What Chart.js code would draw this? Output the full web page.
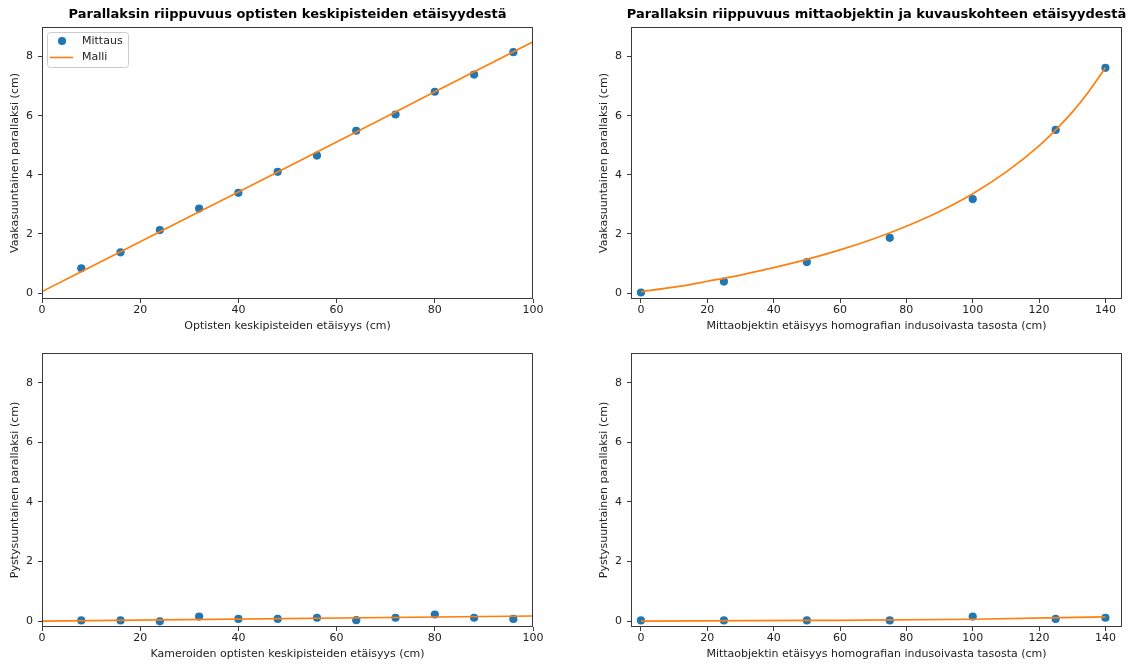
<!DOCTYPE html>
<html><head><meta charset="utf-8">
<script src="https://cdn.jsdelivr.net/npm/chart.js@4.4.1/dist/chart.umd.min.js"></script>
<style>
html,body{margin:0;padding:0;background:#fff;}
body{width:1136px;height:664px;position:relative;overflow:hidden;}
canvas{position:absolute;display:block;}
</style></head><body>
<canvas id="c1" width="560" height="340" style="left:0;top:0"></canvas>
<canvas id="c2" width="547" height="340" style="left:589px;top:0"></canvas>
<canvas id="c3" width="560" height="324" style="left:0;top:340px"></canvas>
<canvas id="c4" width="547" height="324" style="left:589px;top:340px"></canvas>
<script>
// ---- data ----
const seriesNames = ['Mittaus', 'Malli'];
const panelTitles = [
  'Parallaksin riippuvuus optisten keskipisteiden etäisyydestä',
  'Parallaksin riippuvuus mittaobjektin ja kuvauskohteen etäisyydestä'
];
const xAxisLabels = [
  'Optisten keskipisteiden etäisyys (cm)',
  'Mittaobjektin etäisyys homografian indusoivasta tasosta (cm)',
  'Kameroiden optisten keskipisteiden etäisyys (cm)',
  'Mittaobjektin etäisyys homografian indusoivasta tasosta (cm)'
];
const yAxisLabels = [
  'Vaakasuuntainen parallaksi (cm)',
  'Pystysuuntainen parallaksi (cm)'
];
const yTicks = [0, 2, 4, 6, 8];
const xTicksSep = [0, 20, 40, 60, 80, 100];
const xTicksDist = [0, 20, 40, 60, 80, 100, 120, 140];

// panel 1: horizontal parallax vs optical centre separation
const sepX = [8, 16, 24, 32, 40, 48, 56, 64, 72, 80, 88, 96];
const horizSep = [0.84, 1.38, 2.13, 2.86, 3.39, 4.10, 4.65, 5.49, 6.04, 6.81, 7.39, 8.15];
const modelSepX = [0, 20, 40, 60, 80, 100];
const modelHorizSep = [0.05, 1.74, 3.42, 5.11, 6.81, 8.50];

// panel 2: horizontal parallax vs object distance
const distX = [0, 25, 50, 75, 100, 125, 140];
const horizDist = [0.02, 0.39, 1.05, 1.87, 3.18, 5.52, 7.62];
const modelDistX = [0, 10, 20, 30, 40, 50, 60, 70, 80, 90, 100, 110, 120, 125, 130, 135, 140];
const modelHorizDist = [0.05, 0.20, 0.40, 0.61, 0.86, 1.14, 1.46, 1.83, 2.26, 2.76, 3.36, 4.09, 4.98, 5.52, 6.12, 6.82, 7.62];

// panel 3: vertical parallax vs camera separation
const vertSep = [0.02, 0.02, -0.01, 0.15, 0.07, 0.07, 0.11, 0.03, 0.11, 0.22, 0.11, 0.07];
const modelVertSepX = [0, 100];
const modelVertSep = [0.00, 0.17];

// panel 4: vertical parallax vs object distance
const vertDist = [0.02, 0.02, 0.02, 0.02, 0.15, 0.07, 0.11];
const modelVertDistX = [0, 50, 100, 140];
const modelVertDist = [0.00, 0.02, 0.06, 0.14];

// ---- styling / helpers ----
const FONT = 'DejaVu Sans';
const BLUE = '#1f77b4', ORANGE = '#ff7f0e', INK = '#222', SPINE = '#3a3a3a';
const pts = (xs, ys) => xs.map((x, i) => ({x: x, y: ys[i]}));

const framePlugin = {
  id: 'frame',
  afterDraw(chart, args, opts) {
    const ctx = chart.ctx, a = chart.chartArea;
    ctx.save();
    ctx.strokeStyle = SPINE; ctx.lineWidth = 1;
    ctx.strokeRect(Math.round(a.left) + 0.5, Math.round(a.top) + 0.5,
      Math.round(a.right - a.left) - 1, Math.round(a.bottom - a.top) - 1);
    if (opts.title) {
      ctx.fillStyle = '#000';
      ctx.font = 'bold 13px "' + FONT + '"';
      ctx.textAlign = 'center'; ctx.textBaseline = 'middle';
      ctx.fillText(opts.title, (a.left + a.right) / 2, 15);
    }
    if (opts.legend) {
      const x0 = a.left + 5, y0 = a.top + 5, w = 81, h = 35;
      ctx.beginPath();
      ctx.roundRect(x0 + 0.5, y0 + 0.5, w, h, 3);
      ctx.fillStyle = 'rgba(255,255,255,0.8)'; ctx.fill();
      ctx.strokeStyle = '#cccccc'; ctx.stroke();
      ctx.beginPath();
      ctx.arc(x0 + 15, y0 + 9, 4.1, 0, Math.PI * 2);
      ctx.fillStyle = BLUE; ctx.fill();
      ctx.beginPath();
      ctx.moveTo(x0 + 3, y0 + 25.5); ctx.lineTo(x0 + 26, y0 + 25.5);
      ctx.strokeStyle = ORANGE; ctx.lineWidth = 1.6; ctx.stroke();
      ctx.fillStyle = INK; ctx.font = '11px "' + FONT + '"';
      ctx.textAlign = 'left'; ctx.textBaseline = 'middle';
      ctx.fillText(seriesNames[0], x0 + 35, y0 + 9);
      ctx.fillText(seriesNames[1], x0 + 35, y0 + 25.5);
    }
    ctx.restore();
  }
};

function makeChart(id, o) {
  const canvas = document.getElementById(id);
  const H = canvas.height, W = canvas.width;
  return new Chart(canvas, {
    data: {
      datasets: [
        { type: 'line', label: seriesNames[1], data: pts(o.mx, o.my), borderColor: ORANGE,
          borderWidth: 1.7, pointRadius: 0, fill: false, cubicInterpolationMode: 'monotone', order: 0 },
        { type: 'scatter', label: seriesNames[0], data: pts(o.x, o.y), backgroundColor: BLUE,
          borderWidth: 0, pointRadius: 4.1, pointHoverRadius: 4.1, order: 1 }
      ]
    },
    options: {
      responsive: false, animation: false, devicePixelRatio: 1,
      layout: { padding: { left: 0, top: o.top, right: W - o.right, bottom: 0 } },
      plugins: { legend: { display: false }, tooltip: { enabled: false },
        frame: { title: o.title, legend: o.legend } },
      scales: {
        x: {
          type: 'linear', min: o.xmin, max: o.xmax,
          afterBuildTicks: s => { s.ticks = o.xt.map(v => ({value: v})); },
          afterFit: s => { s.height = H - o.bottom; },
          grid: { drawOnChartArea: false, drawTicks: true, tickLength: 4, tickColor: SPINE, tickWidth: 1 },
          border: { display: false },
          ticks: { color: INK, font: { family: FONT, size: 11 }, padding: 1, maxRotation: 0, autoSkip: false },
          title: { display: true, text: o.xlabel, color: INK, font: { family: FONT, size: 11 },
                   padding: { top: 0, bottom: o.xtpad } }
        },
        y: {
          type: 'linear', min: -0.2, max: 9,
          afterBuildTicks: s => { s.ticks = yTicks.map(v => ({value: v})); },
          afterFit: s => { s.width = 42; },
          grid: { drawOnChartArea: false, drawTicks: true, tickLength: 4, tickColor: SPINE, tickWidth: 1 },
          border: { display: false },
          ticks: { color: INK, font: { family: FONT, size: 11 }, padding: 5 },
          title: { display: true, text: o.ylabel, color: INK, font: { family: FONT, size: 11 },
                   padding: { top: 9, bottom: 0 } }
        }
      }
    },
    plugins: [framePlugin]
  });
}

makeChart('c1', { x: sepX, y: horizSep, mx: modelSepX, my: modelHorizSep, xmin: 0, xmax: 100, xt: xTicksSep,
  top: 27, right: 533, bottom: 299, xtpad: 7, xlabel: xAxisLabels[0], ylabel: yAxisLabels[0],
  title: panelTitles[0], legend: true });
makeChart('c2', { x: distX, y: horizDist, mx: modelDistX, my: modelHorizDist, xmin: -3, xmax: 145, xt: xTicksDist,
  top: 27, right: 533, bottom: 299, xtpad: 7, xlabel: xAxisLabels[1], ylabel: yAxisLabels[0],
  title: panelTitles[1], legend: false });
makeChart('c3', { x: sepX, y: vertSep, mx: modelVertSepX, my: modelVertSep, xmin: 0, xmax: 100, xt: xTicksSep,
  top: 13, right: 533, bottom: 287, xtpad: 3, xlabel: xAxisLabels[2], ylabel: yAxisLabels[1],
  title: null, legend: false });
makeChart('c4', { x: distX, y: vertDist, mx: modelVertDistX, my: modelVertDist, xmin: -3, xmax: 145, xt: xTicksDist,
  top: 13, right: 533, bottom: 287, xtpad: 3, xlabel: xAxisLabels[3], ylabel: yAxisLabels[1],
  title: null, legend: false });
</script>
</body></html>
